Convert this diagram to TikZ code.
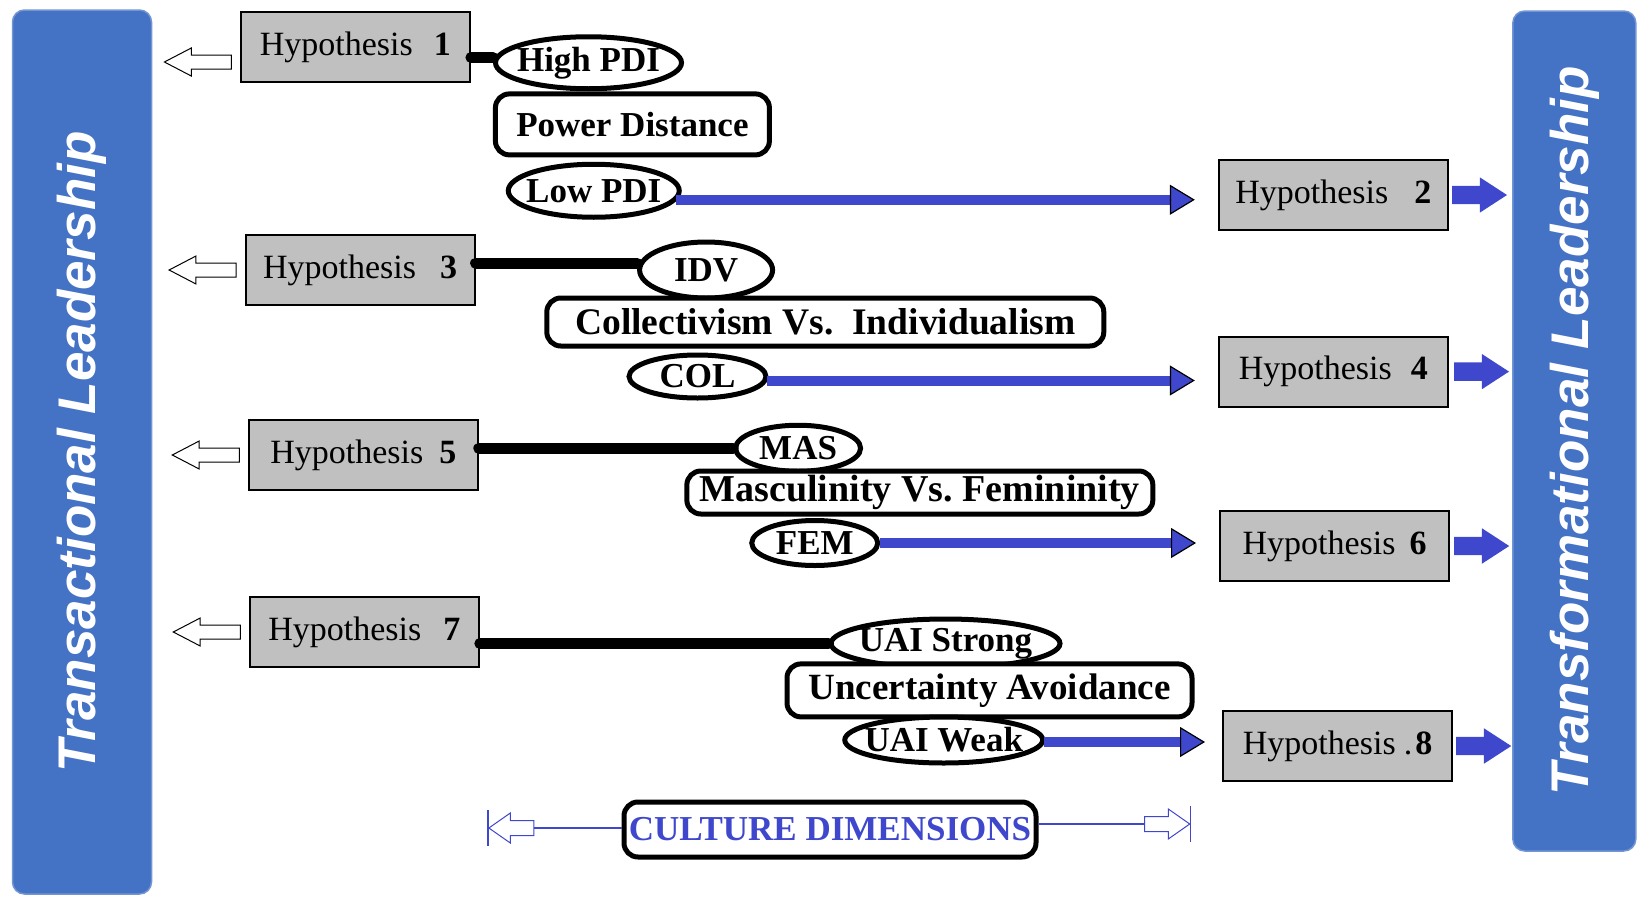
\documentclass[tikz,border=0pt]{standalone}
\usepackage{fontspec}
\setmainfont{Liberation Serif}
\newfontfamily\barfont{Liberation Sans}
\usetikzlibrary{shapes.geometric,shapes.arrows,arrows.meta,positioning}
\definecolor{barblue}{HTML}{4472C4}
\definecolor{arrblue}{HTML}{3F48CC}
\definecolor{hypgray}{HTML}{C0C0C0}
\begin{document}
\begin{tikzpicture}[x=1pt,y=-1pt,
 bar/.style={fill=barblue, draw=barblue!75!white, line width=1.5pt, rounded corners=12pt, inner sep=0pt, text=white, font=\barfont\bfseries\itshape\fontsize{53}{60}\selectfont, rotate=90},
 hyp/.style={draw=black, fill=hypgray, line width=2pt, minimum width=229pt, minimum height=70pt, inner sep=0pt, font=\fontsize{34}{40}\selectfont},
 dimell/.style={ellipse, draw=black, fill=white, line width=5pt, inner sep=0pt, font=\bfseries\fontsize{35}{40}\selectfont},
 dimbox/.style={rectangle, rounded corners=14pt, draw=black, fill=white, line width=5pt, inner sep=0pt, font=\bfseries\fontsize{37}{40}\selectfont},
 linkblack/.style={draw=black, line width=11pt, line cap=round},
 linkblue/.style={draw=arrblue, line width=10pt, -{Triangle[length=25pt,width=30pt,line width=1.2pt,color=black,fill=arrblue]}},
 openarr/.style={single arrow, draw=black, fill=white, line width=1pt, minimum height=67pt, minimum width=27pt, single arrow head extend=7pt, single arrow tip angle=55, inner xsep=0pt, inner ysep=6.5pt, shape border rotate=180},
 bluearr/.style={single arrow, draw=none, fill=arrblue, minimum height=55pt, minimum width=35pt, single arrow head extend=8.5pt, single arrow tip angle=66, inner xsep=0pt, inner ysep=9pt},
 cdarr/.style={single arrow, draw=arrblue, fill=white, line width=1pt, minimum height=45pt, minimum width=29pt, single arrow head extend=7.5pt, single arrow tip angle=70, inner xsep=0pt, inner ysep=7pt},
 thinblue/.style={draw=arrblue, line width=1.2pt}
]
\useasboundingbox (0,0) rectangle (1639,897);
% side bars
\node[bar, minimum width=884pt, minimum height=139pt] (lbar) at (82,452) {Transactional Leadership};
\node[bar, minimum width=840pt, minimum height=123pt] (rbar) at (1574.3,431) {Transformational Leadership};
% hypothesis boxes
\node[hyp] (h1) at (355.4,47) {Hypothesis\hspace{21pt}\textbf{1}};
\node[hyp] (h3) at (360.1,270) {Hypothesis\hspace{24pt}\textbf{3}};
\node[hyp] (h5) at (363.3,455) {Hypothesis\hspace{16pt}\textbf{5}};
\node[hyp] (h7) at (364.3,632) {Hypothesis\hspace{22pt}\textbf{7}};
\node[hyp] (h2) at (1333.3,195) {Hypothesis\hspace{26pt}\textbf{2}};
\node[hyp] (h4) at (1333.3,371.6) {Hypothesis\hspace{19pt}\textbf{4}};
\node[hyp] (h6) at (1334.5,546) {Hypothesis\hspace{14pt}\textbf{6}};
\node[hyp] (h8) at (1337.5,746) {Hypothesis\hspace{8pt}.\hspace{3pt}\textbf{8}};
% arrows to the side bars
\node[openarr, anchor=east] (a1) at ([xshift=-8pt,yshift=-15pt]h1.west) {};
\node[openarr, anchor=east] (a3) at ([xshift=-8pt]h3.west) {};
\node[openarr, anchor=east] (a5) at ([xshift=-8pt]h5.west) {};
\node[openarr, anchor=east] (a7) at ([xshift=-8pt]h7.west) {};
\node[bluearr, anchor=west] (a2) at ([xshift=3pt]h2.east) {};
\node[bluearr, anchor=west] (a4) at ([xshift=5pt]h4.east) {};
\node[bluearr, anchor=west] (a6) at ([xshift=4pt]h6.east) {};
\node[bluearr, anchor=west] (a8) at ([xshift=3pt]h8.east) {};
% culture dimensions
\node[dimell, minimum width=186pt, minimum height=52pt] (hpdi) at (588.5,62.75) {\makebox[0pt]{High PDI}};
\node[dimbox, minimum width=274pt, minimum height=61pt, font=\bfseries\fontsize{35}{40}\selectfont] (pd) at (632.4,124.4) {Power Distance};
\node[dimell, minimum width=171pt, minimum height=53pt] (lpdi) at (593.75,190.75) {\makebox[0pt]{Low PDI}};
\node[dimell, minimum width=133pt, minimum height=56pt] (idv) at (706.1,270) {\makebox[0pt]{IDV}};
\node[dimbox, minimum width=557pt, minimum height=48pt, font=\bfseries\fontsize{37.5}{40}\selectfont] (civ) at (825.3,322) {Collectivism Vs.\ \ Individualism};
\node[dimell, minimum width=137pt, minimum height=43pt] (col) at (697.5,376.5) {\makebox[0pt]{COL}};
\node[dimell, minimum width=125pt, minimum height=46pt] (mas) at (798.1,448.25) {\makebox[0pt]{MAS}};
\node[dimbox, minimum width=466pt, minimum height=43pt, font=\bfseries\fontsize{38}{40}\selectfont] (mvf) at (919.85,492.5) {Masculinity Vs.\ Femininity};
\node[dimell, minimum width=126pt, minimum height=45pt] (fem) at (814.75,543) {\makebox[0pt]{FEM}};
\node[dimell, minimum width=229pt, minimum height=49pt] (uais) at (945.5,643.5) {\makebox[0pt]{UAI Strong}};
\node[dimbox, minimum width=405pt, minimum height=53pt] (ua) at (989.5,690.4) {Uncertainty Avoidance};
\node[dimell, minimum width=198pt, minimum height=46pt] (uaiw) at (943.75,740) {\makebox[0pt]{UAI Weak}};
% black links
\draw[linkblack] ([yshift=-10.5pt]h1.east) -- ([yshift=-10.5pt]h1.east -| hpdi.west);
\draw[linkblack] ([yshift=7pt]h3.east) -- ([yshift=7pt]h3.east -| idv.west);
\draw[linkblack] (h5.east |- mas.west) -- (mas.west);
\draw[linkblack] (h7.east |- uais.west) -- (uais.west);
% blue links
\draw[linkblue, shorten >=23pt] ([xshift=-6pt,yshift=-9pt]lpdi.east) -- ([yshift=-9pt]lpdi.east -| h2.west);
\draw[linkblue, shorten >=23pt] ([xshift=-2pt,yshift=-4pt]col.east) -- ([yshift=-4pt]col.east -| h4.west);
\draw[linkblue, shorten >=23pt] (fem.east) -- (fem.east -| h6.west);
\draw[linkblue, shorten >=17pt] ([xshift=-1pt,yshift=-2pt]uaiw.east) -- ([yshift=-2pt]uaiw.east -| h8.west);
% culture dimensions label
\node[dimbox, minimum width=412pt, minimum height=55pt, text=arrblue, font=\bfseries\fontsize{35}{40}\selectfont] (cd) at (830,829.5) {CULTURE DIMENSIONS};
\coordinate (cdL) at (488,828);
\coordinate (cdR) at (1190.6,824);
\node[cdarr, shape border rotate=180, anchor=tip] (cdla) at (cdL) {};
\node[cdarr, anchor=tip] (cdra) at (cdR) {};
\draw[thinblue] (cdla.tail) -- (cdla.tail -| cd.west);
\draw[thinblue] (cd.east |- cdra.tail) -- (cdra.tail);
\draw[thinblue] ([yshift=18pt]cdL) -- ([yshift=-18pt]cdL);
\draw[thinblue] ([yshift=18pt]cdR) -- ([yshift=-18pt]cdR);
\end{tikzpicture}
\end{document}
